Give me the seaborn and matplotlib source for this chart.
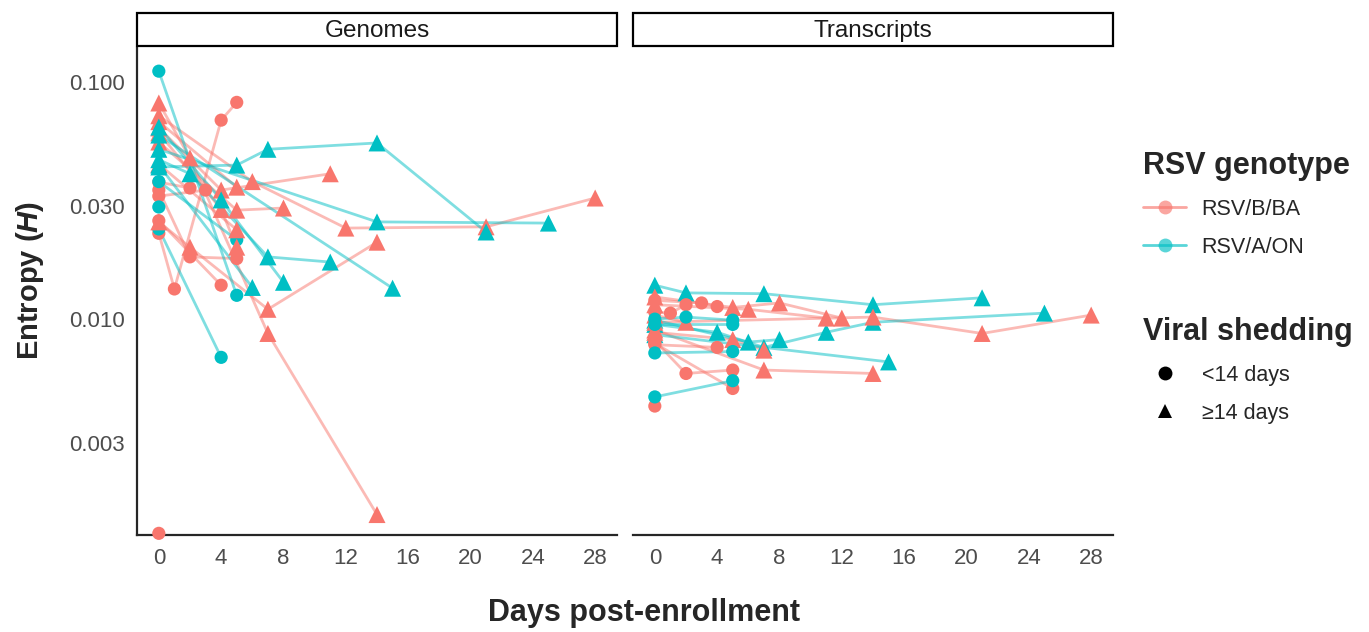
import numpy as np
import pandas as pd
import matplotlib
matplotlib.use("Agg")
import matplotlib.pyplot as plt
from matplotlib.lines import Line2D
from matplotlib.patches import Rectangle
import seaborn as sns

# ---- data ----
subject_ids = ["G01", "G02", "G03", "G04", "G05", "G06", "G07", "G08", "G09", "G10",
               "G11", "G12", "G13", "G14", "G15", "G16", "G17", "G18",
               "G19", "G20", "G21", "G22", "G23", "G24",
               "X01", "X02", "X03", "X04", "X06", "X07", "X08", "X09", "X10", "X11",
               "X12", "X13", "X14", "X15", "X16", "X17", "X18", "X19", "X20", "X21"]
subject_genotype = ["RSV/B/BA"] * 6 + ["RSV/A/ON"] * 4 + ["RSV/B/BA"] * 8 + ["RSV/A/ON"] * 6 \
    + ["RSV/A/ON"] * 4 + ["RSV/B/BA"] * 6 + ["RSV/B/BA"] * 6 + ["RSV/A/ON"] * 4
subject_shedding = ["<14 days"] * 10 + ["\u226514 days"] * 14 \
    + ["\u226514 days"] * 10 + ["<14 days"] * 10

genome_subject = ["G01"] * 4 + ["G02"] * 2 + ["G03"] * 3 + ["G04"] * 2 + ["G05"] * 2 + ["G06"] \
    + ["G07"] * 2 + ["G08"] * 2 + ["G09"] * 2 + ["G10"] \
    + ["G11"] * 4 + ["G12"] * 5 + ["G13"] * 3 + ["G14"] * 3 + ["G15"] * 4 + ["G16"] * 3 \
    + ["G17"] * 2 + ["G18"] * 2 \
    + ["G19"] * 5 + ["G20"] * 3 + ["G21"] * 2 + ["G22"] * 4 + ["G23"] * 3 + ["G24"] * 2
genome_day = [0, 1, 4, 5, 0, 3, 0, 2, 5, 0, 2, 0, 4, 0,
              0, 5, 0, 4, 0, 5, 0,
              0, 2, 7, 14, 0, 6, 12, 21, 28, 0, 4, 11, 0, 5, 8, 0, 2, 7, 14, 0, 4, 5,
              0, 5, 0, 5,
              0, 5, 7, 14, 21, 0, 14, 25, 0, 15, 0, 2, 7, 11, 0, 4, 8, 0, 6]
genome_entropy = [0.023, 0.0134, 0.069, 0.082, 0.033, 0.035, 0.035, 0.0183, 0.018,
                  0.0378, 0.0357, 0.026, 0.0139, 0.00125,
                  0.111, 0.0126, 0.024, 0.0069, 0.038, 0.0216, 0.0297,
                  0.0815, 0.0478, 0.0087, 0.0015, 0.072, 0.038, 0.0242, 0.0245, 0.0324,
                  0.064, 0.035, 0.041, 0.0558, 0.0288, 0.0294,
                  0.0257, 0.0201, 0.011, 0.0211, 0.061, 0.029, 0.0201,
                  0.068, 0.036, 0.045, 0.0238,
                  0.0438, 0.0446, 0.052, 0.0553, 0.0233, 0.052, 0.0257, 0.0254,
                  0.0597, 0.0135, 0.047, 0.041, 0.0183, 0.0174,
                  0.0645, 0.0318, 0.0143, 0.0446, 0.0136]

transcript_subject = ["X01"] * 5 + ["X02"] * 6 + ["X03"] * 2 + ["X04"] * 3 \
    + ["X06"] * 4 + ["X07"] * 3 + ["X08"] * 4 + ["X09"] * 3 + ["X10"] * 3 + ["X11"] * 2 \
    + ["X12"] * 3 + ["X13"] * 3 + ["X14"] * 2 + ["X15"] * 3 + ["X16"] * 2 + ["X17"] \
    + ["X18"] * 2 + ["X19"] * 2 + ["X20"] * 3 + ["X21"] * 2
transcript_day = [0, 2, 7, 14, 21, 0, 4, 7, 11, 14, 25, 0, 15, 0, 6, 8,
                  0, 5, 8, 12, 0, 6, 11, 0, 14, 21, 28, 0, 5, 7, 0, 7, 14, 0, 2,
                  0, 1, 2, 0, 3, 4, 0, 4, 0, 2, 5, 0, 5, 0,
                  0, 5, 0, 5, 0, 2, 5, 0, 5]
transcript_entropy = [0.0139, 0.0129, 0.0128, 0.0115, 0.0123,
                      0.0095, 0.0088, 0.0076, 0.0088, 0.0097, 0.0106,
                      0.0086, 0.0066, 0.0099, 0.008, 0.0082,
                      0.0124, 0.0112, 0.0117, 0.0101, 0.0115, 0.011, 0.0101,
                      0.0097, 0.0102, 0.0087, 0.0104, 0.0088, 0.0082, 0.0074,
                      0.009, 0.0061, 0.0059, 0.0104, 0.0097,
                      0.0107, 0.0106, 0.0115, 0.012, 0.0117, 0.0113, 0.0078, 0.0076,
                      0.0081, 0.0059, 0.0061, 0.0079, 0.0051, 0.0043,
                      0.0047, 0.0055, 0.0072, 0.0073, 0.01, 0.0102, 0.0099, 0.0095, 0.0095]

genotype_order = ["RSV/B/BA", "RSV/A/ON"]
shedding_order = ["<14 days", "\u226514 days"]
palette = {"RSV/B/BA": "#F8766D", "RSV/A/ON": "#00BFC4"}
markers = {"<14 days": "o", "\u226514 days": "^"}
marker_sizes = {"<14 days": 90, "\u226514 days": 150}

meta = pd.DataFrame({"subject": subject_ids, "genotype": subject_genotype,
                     "shedding": subject_shedding})
genomes = pd.DataFrame({"subject": genome_subject, "day": genome_day,
                        "entropy": genome_entropy}).merge(meta, on="subject")
transcripts = pd.DataFrame({"subject": transcript_subject, "day": transcript_day,
                            "entropy": transcript_entropy}).merge(meta, on="subject")

# ---- style ----
sns.set_style("white")
plt.rcParams["font.family"] = ["Liberation Sans", "DejaVu Sans"]
plt.rcParams["mathtext.fontset"] = "custom"
plt.rcParams["mathtext.it"] = "Liberation Sans:italic:bold"
plt.rcParams["mathtext.rm"] = "Liberation Sans:bold"

W, H = 1369, 632
fig = plt.figure(figsize=(W / 100, H / 100), dpi=100)

panels = [("Genomes", genomes, 137), ("Transcripts", transcripts, 633)]
axes = []
for title, df, left in panels:
    ax = fig.add_axes([left / W, 1 - 535 / H, 480 / W, 487 / H])
    axes.append(ax)
    sns.lineplot(data=df, x="day", y="entropy", hue="genotype", units="subject",
                 estimator=None, palette=palette, hue_order=genotype_order,
                 alpha=0.5, linewidth=2.0, legend=False, ax=ax, sort=True)
    sns.scatterplot(data=df, x="day", y="entropy", hue="genotype", style="shedding",
                    size="shedding", sizes=marker_sizes, size_order=shedding_order,
                    palette=palette, hue_order=genotype_order, markers=markers,
                    style_order=shedding_order, linewidth=0, legend=False,
                    ax=ax, zorder=3, clip_on=False)
    ax.set_yscale("log")
    ax.set_ylim(0.00123, 0.139)
    ax.set_xlim(-1.4, 29.4)
    ax.set_xticks(range(0, 29, 2))
    ax.set_xticklabels([str(d) if d % 4 == 0 else "" for d in range(0, 29, 2)])
    ax.minorticks_off()
    ax.set_xlabel("")
    ax.set_ylabel("")
    for s in ["top", "right"]:
        ax.spines[s].set_visible(False)
    ax.spines["bottom"].set_linewidth(1.6)
    ax.spines["left"].set_linewidth(1.6)
    ax.tick_params(axis="both", length=5, width=1.2, color="black",
                   labelsize=16, labelcolor="#4D4D4D", pad=4)

    # facet strip
    sax = fig.add_axes([left / W, 1 - 46 / H, 480 / W, 33 / H])
    sax.set_xlim(0, 1)
    sax.set_ylim(0, 1)
    sax.axis("off")
    sax.add_patch(Rectangle((0, 0), 1, 1, facecolor="white", edgecolor="black",
                            linewidth=1.6, transform=sax.transAxes, clip_on=False))
    sax.text(0.5, 0.45, title, ha="center", va="center", fontsize=17.5, color="#1A1A1A")

ax1, ax2 = axes
ax1.set_yticks([0.003, 0.01, 0.03, 0.1])
ax1.set_yticklabels(["0.003", "0.010", "0.030", "0.100"])
ax2.sharey(ax1)
ax2.set_ylim(0.00123, 0.139)
ax2.spines["left"].set_visible(False)
ax2.tick_params(axis="y", left=False, labelleft=False)

fig.text(644 / W, 1 - 613 / H, "Days post-enrollment", ha="center", va="center",
         fontsize=22, fontweight="bold")
fig.text(30 / W, 1 - 280 / H, r"Entropy ($\mathit{H}$)", ha="center", va="center",
         rotation=90, fontsize=21, fontweight="bold")

# ---- legends ----
geno_handles = [Line2D([0], [0], color=palette[g], marker="o", markersize=10,
                       linewidth=2.0, markerfacecolor=palette[g], markeredgewidth=0)
                for g in genotype_order]
leg1 = fig.legend(geno_handles, genotype_order, title="RSV genotype",
                  loc="upper left", bbox_to_anchor=(1124 / W, 1 - 132 / H),
                  frameon=False, fontsize=15.5, title_fontsize=22, alignment="left",
                  handlelength=2.0, labelspacing=0.8, handletextpad=0.7)
leg1.get_title().set_fontweight("bold")
for lh in leg1.get_lines():
    lh.set_alpha(0.65)

shed_handles = [Line2D([0], [0], color="black", marker=markers[s], linestyle="none",
                       markersize=10, markeredgewidth=0) for s in shedding_order]
leg2 = fig.legend(shed_handles, shedding_order, title="Viral shedding",
                  loc="upper left", bbox_to_anchor=(1124 / W, 1 - 298 / H),
                  frameon=False, fontsize=15.5, title_fontsize=22, alignment="left",
                  handlelength=2.0, labelspacing=0.8, handletextpad=0.7)
leg2.get_title().set_fontweight("bold")

fig.savefig("out.png", dpi=100)
